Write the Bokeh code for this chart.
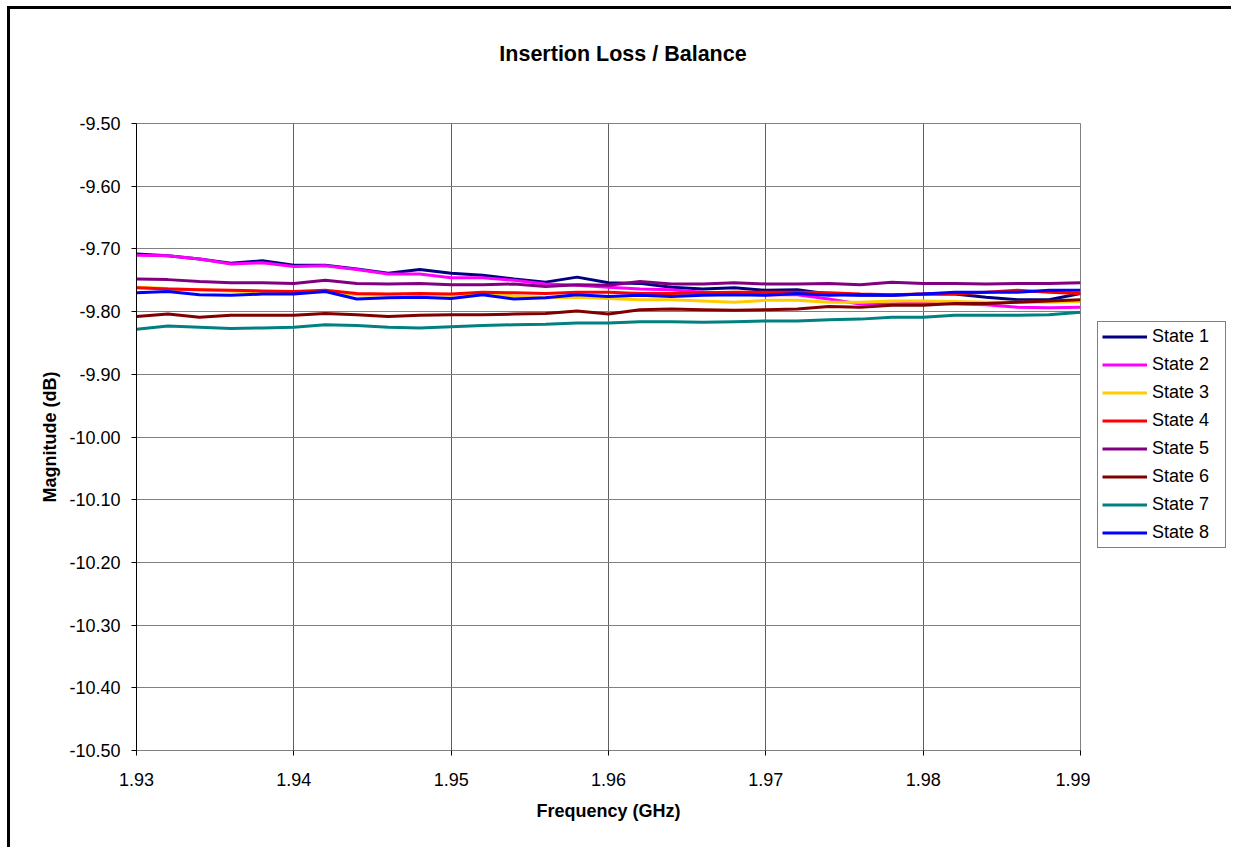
from bokeh.plotting import figure
from bokeh.models import (Legend, LegendItem, FixedTicker, NumeralTickFormatter,
                          Range1d, Div)
from bokeh.layouts import row, column
from bokeh.embed import file_html
from bokeh.resources import INLINE

freq = [1.930, 1.932, 1.934, 1.936, 1.938, 1.940, 1.942, 1.944, 1.946, 1.948,
        1.950, 1.952, 1.954, 1.956, 1.958, 1.960, 1.962, 1.964, 1.966, 1.968,
        1.970, 1.972, 1.974, 1.976, 1.978, 1.980, 1.982, 1.984, 1.986, 1.988,
        1.990]

state1 = [-9.708, -9.711, -9.716, -9.723, -9.719, -9.726, -9.726, -9.732, -9.739, -9.733,
          -9.739, -9.742, -9.748, -9.753, -9.745, -9.754, -9.755, -9.761, -9.764, -9.762,
          -9.766, -9.765, -9.772, -9.774, -9.774, -9.772, -9.772, -9.777, -9.781, -9.781,
          -9.771]
state2 = [-9.710, -9.711, -9.716, -9.724, -9.722, -9.728, -9.727, -9.733, -9.740, -9.740,
          -9.746, -9.746, -9.750, -9.756, -9.758, -9.761, -9.764, -9.765, -9.769, -9.772,
          -9.773, -9.773, -9.780, -9.788, -9.788, -9.786, -9.788, -9.789, -9.793, -9.794,
          -9.793]
state3 = [-9.761, -9.763, -9.765, -9.767, -9.768, -9.769, -9.768, -9.773, -9.774, -9.773,
          -9.774, -9.772, -9.775, -9.778, -9.777, -9.779, -9.781, -9.781, -9.783, -9.785,
          -9.782, -9.782, -9.785, -9.785, -9.783, -9.783, -9.784, -9.785, -9.785, -9.785,
          -9.784]
state4 = [-9.762, -9.764, -9.765, -9.766, -9.767, -9.768, -9.766, -9.771, -9.772, -9.771,
          -9.772, -9.769, -9.770, -9.771, -9.769, -9.769, -9.771, -9.771, -9.770, -9.769,
          -9.769, -9.769, -9.770, -9.772, -9.773, -9.772, -9.772, -9.769, -9.766, -9.769,
          -9.771]
state5 = [-9.748, -9.749, -9.752, -9.754, -9.754, -9.755, -9.750, -9.755, -9.756, -9.755,
          -9.757, -9.757, -9.756, -9.760, -9.757, -9.758, -9.752, -9.756, -9.756, -9.754,
          -9.756, -9.756, -9.755, -9.757, -9.753, -9.755, -9.755, -9.756, -9.755, -9.755,
          -9.754]
state6 = [-9.808, -9.804, -9.809, -9.806, -9.806, -9.806, -9.803, -9.805, -9.808, -9.806,
          -9.805, -9.805, -9.804, -9.803, -9.799, -9.804, -9.797, -9.796, -9.797, -9.798,
          -9.797, -9.796, -9.792, -9.793, -9.790, -9.790, -9.787, -9.787, -9.785, -9.783,
          -9.781]
state7 = [-9.828, -9.823, -9.825, -9.827, -9.826, -9.825, -9.821, -9.822, -9.825, -9.826,
          -9.824, -9.822, -9.821, -9.820, -9.818, -9.818, -9.816, -9.816, -9.817, -9.816,
          -9.815, -9.815, -9.813, -9.812, -9.809, -9.809, -9.806, -9.806, -9.806, -9.805,
          -9.801]
state8 = [-9.770, -9.768, -9.773, -9.774, -9.772, -9.772, -9.768, -9.780, -9.778, -9.777,
          -9.779, -9.773, -9.780, -9.778, -9.773, -9.776, -9.774, -9.776, -9.774, -9.773,
          -9.774, -9.771, -9.774, -9.773, -9.774, -9.772, -9.769, -9.769, -9.769, -9.766,
          -9.766]

series_names = ["State 1", "State 2", "State 3", "State 4",
                "State 5", "State 6", "State 7", "State 8"]
series_values = [state1, state2, state3, state4, state5, state6, state7, state8]
colors = ["#000080", "#FF00FF", "#FFCC00", "#FF0000",
          "#800080", "#800000", "#008080", "#0000FF"]

x_ticks = [1.93, 1.94, 1.95, 1.96, 1.97, 1.98, 1.99]
y_ticks = [-10.5, -10.4, -10.3, -10.2, -10.1, -10.0, -9.9, -9.8, -9.7, -9.6, -9.5]

TITLE = "Insertion Loss / Balance"
FONT = "Liberation Sans"

# title block
title_div = Div(text=TITLE, width=1221, height=60, margin=0,
                styles={"font-family": "'Liberation Sans', Arial, sans-serif",
                        "font-weight": "bold", "font-size": "21.5px",
                        "color": "black", "text-align": "center",
                        "line-height": "24px", "padding-top": "33px",
                        "padding-left": "5px", "box-sizing": "border-box"})

# main chart
p1 = figure(width=1080, height=778, output_backend="svg", toolbar_location=None,
            x_range=Range1d(1.93, 1.99), y_range=Range1d(-10.5, -9.5),
            min_border_left=126, min_border_right=10, min_border_top=54,
            min_border_bottom=97)
p1.background_fill_color = "white"
p1.border_fill_color = "white"
p1.outline_line_color = "#808080"
p1.outline_line_width = 1

for ax in (p1.xaxis[0], p1.yaxis[0]):
    ax.major_label_text_font = FONT
    ax.major_label_text_font_size = "18px"
    ax.major_label_text_color = "black"
    ax.axis_label_text_font = FONT
    ax.axis_label_text_font_style = "bold"
    ax.axis_label_text_font_size = "18px"
    ax.axis_label_text_color = "black"
    ax.major_tick_out = 5
    ax.major_tick_in = 0
    ax.minor_tick_out = 0
    ax.minor_tick_in = 0
    ax.major_tick_line_color = "black"

p1.xaxis[0].ticker = FixedTicker(ticks=x_ticks)
p1.yaxis[0].ticker = FixedTicker(ticks=y_ticks)
p1.xaxis[0].formatter = NumeralTickFormatter(format="0.00")
p1.yaxis[0].formatter = NumeralTickFormatter(format="0.00")
p1.xaxis[0].axis_label = "Frequency (GHz)"
p1.yaxis[0].axis_label = "Magnitude (dB)"
p1.xaxis[0].axis_line_color = "#808080"
p1.yaxis[0].axis_line_color = "black"
p1.xaxis[0].major_label_standoff = 17
p1.yaxis[0].major_label_standoff = 11
p1.xaxis[0].axis_label_standoff = 12
p1.yaxis[0].axis_label_standoff = 6

p1.xgrid.grid_line_color = "#606060"
p1.ygrid.grid_line_color = "#808080"
p1.xgrid.grid_line_width = 1
p1.ygrid.grid_line_width = 1

for vals, col in zip(series_values, colors):
    p1.line(freq, vals, line_color=col, line_width=3)

# legend panel
p2 = figure(width=141, height=778, output_backend="svg", toolbar_location=None,
            x_axis_type=None, y_axis_type=None, min_border=0,
            x_range=Range1d(0, 1), y_range=Range1d(0, 1))
p2.outline_line_color = None
p2.xgrid.visible = False
p2.ygrid.visible = False
p2.background_fill_color = "white"
p2.border_fill_color = "white"

items = []
for name, col in zip(series_names, colors):
    r = p2.line([5, 6], [5, 6], line_color=col, line_width=3)
    items.append(LegendItem(label=name, renderers=[r]))

legend = Legend(items=items, location=(7, 202), margin=0, padding=4,
                spacing=7, label_height=21, glyph_height=21, glyph_width=45,
                label_standoff=5, label_width=69,
                label_text_font=FONT, label_text_font_size="18px",
                label_text_color="black",
                border_line_color="black", border_line_width=1,
                background_fill_color="white", background_fill_alpha=1)
p2.add_layout(legend)

layout = column(title_div, row(p1, p2, spacing=0), spacing=0)
layout.styles = {"border-left": "3px solid black", "border-top": "3px solid black",
                 "margin-left": "7px", "margin-top": "6px"}

open("out.html", "w").write(file_html(layout, INLINE))
